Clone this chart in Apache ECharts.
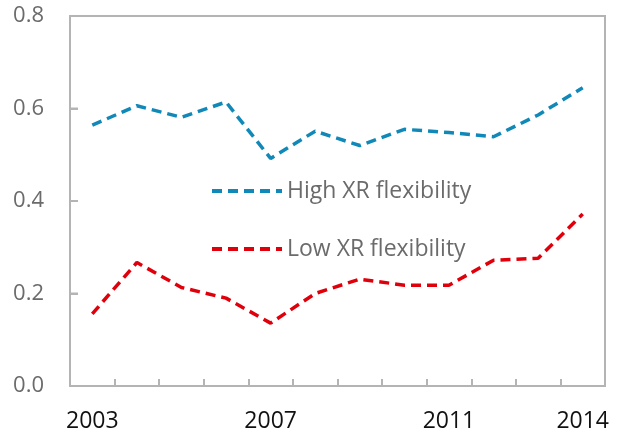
<!DOCTYPE html>
<html><head><meta charset="utf-8">
<script src="https://cdn.jsdelivr.net/npm/echarts@6/dist/echarts.min.js"></script>
<style>html,body{margin:0;padding:0;background:#fff}#c{width:621px;height:435px}</style>
</head><body><div id="c"></div>
<script>
const years = ['2003','2004','2005','2006','2007','2008','2009','2010','2011','2012','2013','2014'];
const shownYears = ['2003','2007','2011','2014'];
const highXR = [0.564,0.606,0.581,0.614,0.492,0.551,0.520,0.555,0.548,0.539,0.586,0.645];
const lowXR = [0.156,0.267,0.213,0.190,0.136,0.200,0.231,0.218,0.218,0.272,0.276,0.372];
const yTicks = [0, 0.2, 0.4, 0.6, 0.8];

const chart = echarts.init(document.getElementById('c'));
const font = '"Open Sans", "Noto Sans", sans-serif';
const axisGray = '#B4B4B4';
chart.setOption({
  animation: false,
  grid: {left: 70, right: 16, top: 16, bottom: 49, show: true, borderColor: axisGray, borderWidth: 2, backgroundColor: 'transparent'},
  legend: {
    orient: 'vertical', left: 210, top: 179, padding: 0,
    itemWidth: 70, itemHeight: 14, itemGap: 34,
    itemStyle: {opacity: 0},
    lineStyle: {width: 4},
    textStyle: {fontFamily: font, fontSize: 23, lineHeight: 24, color: '#6B6B6B'},
    data: ['High XR flexibility', 'Low XR flexibility']
  },
  xAxis: {
    type: 'category', data: years, boundaryGap: true,
    axisLine: {onZero: false, lineStyle: {color: axisGray, width: 2}},
    axisTick: {show: true, inside: true, length: 7, interval: 0, lineStyle: {color: axisGray, width: 2}},
    axisLabel: {
      interval: (i, v) => shownYears.indexOf(v) >= 0,
      margin: 24, fontFamily: font, fontSize: 23, color: '#111111'
    }
  },
  yAxis: {
    type: 'value', min: yTicks[0], max: yTicks[yTicks.length-1], interval: 0.2,
    splitLine: {show: false},
    axisLine: {show: true, onZero: false, lineStyle: {color: axisGray, width: 2}},
    axisTick: {show: true, inside: true, length: 8, lineStyle: {color: axisGray, width: 2}},
    axisLabel: {margin: 26, fontFamily: font, fontSize: 22, color: '#6B6B6B', formatter: v => v.toFixed(1)}
  },
  series: [
    {name: 'High XR flexibility', type: 'line', data: highXR, symbol: 'none', color: '#1088B8',
     lineStyle: {color: '#1088B8', width: 3.5, type: [10, 6]}},
    {name: 'Low XR flexibility', type: 'line', data: lowXR, symbol: 'none', color: '#E0000B',
     lineStyle: {color: '#E0000B', width: 3.5, type: [10, 6]}},
    {
      // inward y-axis tick marks, placed through the value scale
      name: 'yticks', type: 'custom', silent: true, clip: false, z: 1,
      data: yTicks.slice(1, -1).map(v => [0, v]),
      renderItem: (params, api) => {
        const y = api.coord([0, api.value(1)])[1];
        const x0 = params.coordSys.x;
        return {type: 'line', shape: {x1: x0, y1: y, x2: x0 + 8, y2: y},
                style: {stroke: axisGray, lineWidth: 2}};
      }
    }
  ]
});
</script></body></html>
